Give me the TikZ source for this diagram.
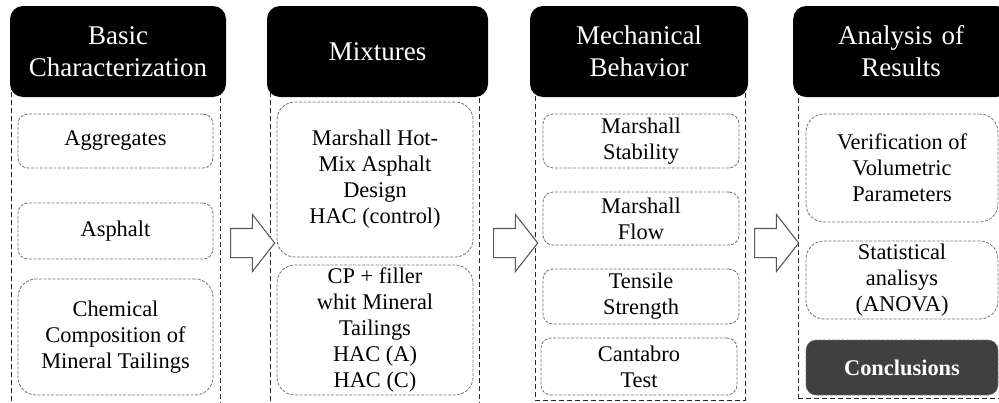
\documentclass[tikz,border=0pt]{standalone}
\usepackage{fontspec}
\setmainfont{Liberation Serif}
\usetikzlibrary{positioning, shapes.arrows}

\begin{document}
\begin{tikzpicture}[x=1pt, y=-1pt,
    head/.style={rectangle, rounded corners=13pt, fill=black, text=white, align=center, inner sep=0pt, minimum height=91pt, font=\fontsize{27}{32}\selectfont},
    panel/.style={rectangle, draw=black!85, dash pattern=on 5pt off 3pt, line width=0.9pt, inner sep=0pt},
    item/.style={rectangle, rounded corners=10pt, draw=black!55, dash pattern=on 3pt off 1.5pt, line width=0.8pt, align=center, inner sep=0pt, font=\fontsize{22.4}{26}\selectfont},
    tall/.style={rounded corners=18pt},
    concl/.style={item, fill=black!75, text=white, font=\bfseries\fontsize{22.4}{26}\selectfont},
    blockarrow/.style={single arrow, draw=black!65, fill=white, line width=1.1pt, minimum height=44pt, inner sep=0pt, inner ysep=14pt, single arrow head extend=14pt, single arrow tip angle=104}]
    \useasboundingbox (0,0) rectangle (999,402);
    \clip (0,0) rectangle (999,402);
    % Dashed panels behind the columns
    \node[panel, anchor=north west, minimum width=209pt, minimum height=320pt] (p1) at (11,86) {};
    \node[panel, anchor=north west, minimum width=209pt, minimum height=320pt] (p2) at (270,86) {};
    \node[panel, anchor=north west, minimum width=210pt, minimum height=314pt] (p3) at (535,86) {};
    \node[panel, anchor=north west, minimum width=210pt, minimum height=312pt] (p4) at (798,86) {};
    % Column headers
    \node[head, minimum width=216pt] (basic) at (118,51.5) {Basic\\Characterization};
    \node[head, minimum width=221pt] (mix) at (377.5,51.5) {Mixtures};
    \node[head, minimum width=218pt] (mech) at (639,51.5) {Mechanical\\Behavior};
    \node[head, minimum width=216pt, anchor=west, text width=206pt, align=center] (anal) at (793,51.5) {Analysis of\\Results};
    % Basic characterization
    \node[item, minimum width=195pt, minimum height=54pt] (aggr) at (115.5,141) {Aggregates};
    \node[item, minimum width=195pt, minimum height=56pt] (asph) at (115.5,231) {Asphalt};
    \node[item, tall, minimum width=195pt, minimum height=116pt] (chem) at (115.5,337) {Chemical\\Composition of\\Mineral Tailings};
    % Mixtures
    \node[item, tall, minimum width=196pt, minimum height=155pt] (marsh) at (375,179.5) {Marshall Hot-\\Mix Asphalt\\Design\\HAC (control)};
    \node[item, tall, minimum width=196pt, minimum height=130pt] (cpfill) at (375,330) {CP + filler\\whit Mineral\\Tailings\\HAC (A)\\HAC (C)};
    % Mechanical behavior
    \node[item, minimum width=196pt, minimum height=54pt] (stab) at (641,141) {Marshall\\Stability};
    \node[item, minimum width=196pt, minimum height=53pt] (flow) at (641,218.5) {Marshall\\Flow};
    \node[item, minimum width=196pt, minimum height=55pt] (tens) at (641,296.5) {Tensile\\Strength};
    \node[item, minimum width=196pt, minimum height=57pt] (cant) at (639,366.5) {Cantabro\\Test};
    % Analysis of results
    \node[item, tall, minimum width=192pt, minimum height=108pt] (verif) at (902,168) {Verification of\\Volumetric\\Parameters};
    \node[item, tall, minimum width=192pt, minimum height=78pt] (stat) at (902,280) {Statistical\\analisys\\(ANOVA)};
    \node[concl, minimum width=192pt, minimum height=55pt] (concl) at (902,367.5) {Conclusions};
    % Block arrows between columns
    \node[blockarrow] (arr1) at (247,243) {};
    \node[blockarrow] (arr2) at (510,243) {};
    \node[blockarrow] (arr3) at (771,243) {};
\end{tikzpicture}
\end{document}
